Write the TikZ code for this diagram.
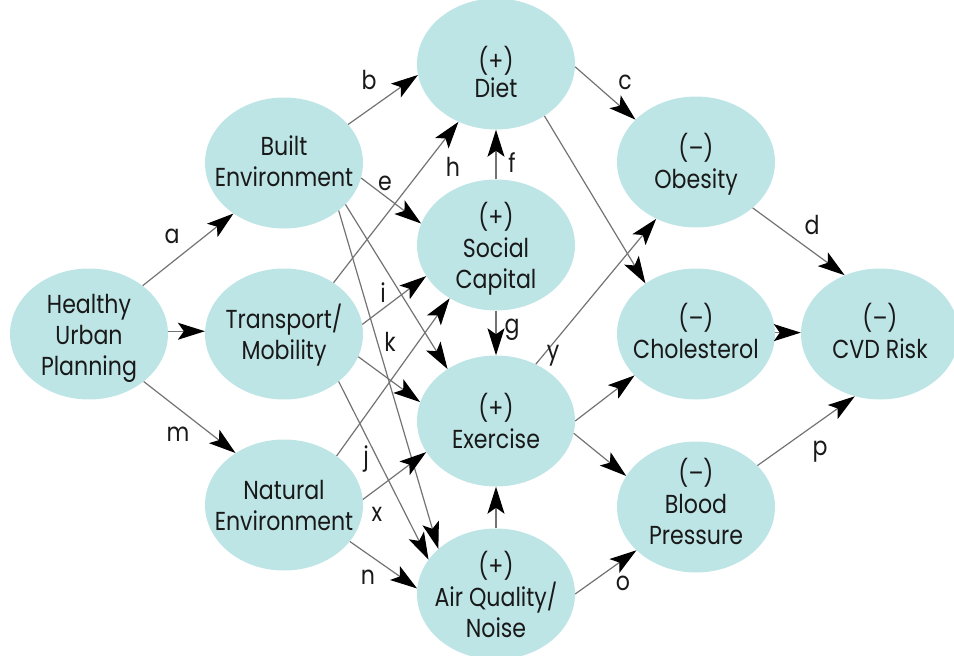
\documentclass[tikz,border=0pt]{standalone}
\usepackage{fontspec}
\setmainfont{Poppins}[FakeStretch=0.85]
\usetikzlibrary{shapes.geometric,arrows.meta}
\definecolor{bubfill}{RGB}{190,229,230}
\definecolor{lncol}{RGB}{115,115,115}
\definecolor{txtcol}{RGB}{25,25,25}
\begin{document}
\begin{tikzpicture}[x=1pt,y=-1pt,
  bubble/.style={ellipse, fill=bubfill, minimum width=158pt, minimum height=131pt, inner sep=0pt},
  txt/.style={align=center, font=\fontsize{26}{31}\selectfont, text=txtcol, inner sep=0pt, yshift=-4pt},
  lbl/.style={font=\fontsize{26}{30}\selectfont, text=txtcol, inner sep=0pt},
  arr/.style={draw=lncol, line width=1.2pt, -{Stealth[color=black,length=27pt,width=17pt,inset=6pt]}}]
\useasboundingbox (0,0) rectangle (954,656);

% bubbles
\node[bubble] (HUP) at (89,334) {};
\node[bubble] (BE)  at (284,163) {};
\node[bubble] (TM)  at (284,334) {};
\node[bubble] (NE)  at (284,505) {};
\node[bubble] (DI)  at (496,64) {};
\node[bubble] (SC)  at (496,245) {};
\node[bubble] (EX)  at (496,421) {};
\node[bubble] (AQ)  at (496,594) {};
\node[bubble] (OB)  at (696,162) {};
\node[bubble] (CH)  at (696,334) {};
\node[bubble] (BP)  at (696,507) {};
\node[bubble] (CVD) at (880,334) {};

% texts
\node[txt] (tHUP) at (89,334)    {Healthy\\Urban\\Planning};
\node[txt] (tBE)  at (284,157)   {Built\\Environment};
\node[txt] (tTM)  at (284,331)   {Transport/\\Mobility};
\node[txt] (tNE)  at (284,501.5) {Natural\\Environment};
\node[txt, font=\fontsize{26}{27}\selectfont] (tDI) at (496,68) {(+)\\Diet};
\node[txt] (tSC)  at (496,245)   {(+)\\Social\\Capital};
\node[txt] (tEX)  at (496,416.5) {(+)\\Exercise};
\node[txt] (tAQ)  at (496,590)   {(+)\\Air Quality/\\Noise};
\node[txt] (tOB)  at (696,160.5) {(–)\\Obesity};
\node[txt] (tCH)  at (696,327)   {(–)\\Cholesterol};
\node[txt] (tBP)  at (696,497)   {(–)\\Blood\\Pressure};
\node[txt] (tCVD) at (880,327)   {(–)\\CVD Risk};

% connectors
\draw[arr] (HUP.42)  -- (BE.225);
\draw[arr] (HUP.2)   -- (TM.178);
\draw[arr] (HUP.-41) -- (NE.133);
\draw[arr] (BE.31)   -- (DI.188);
\draw[arr] (BE.-11)  -- (SC.164);
\draw[arr] (BE.-34)  -- (EX.133);
\draw[arr] (BE.-41)  -- (AQ.142);
\draw[arr] (TM.46)   -- (DI.237);
\draw[arr] (TM.7)    -- (SC.204);
\draw[arr] (TM.-17)  -- (EX.166);
\draw[arr] (TM.-41)  -- (AQ.153);
\draw[arr] (NE.43)   -- (SC.229);
\draw[arr] (NE.4)    -- (EX.204);
\draw[arr] (NE.-29)  -- (AQ.176);
\draw[arr] (SC.90)   -- (DI.270);
\draw[arr] (SC.270)  -- (EX.90);
\draw[arr] (AQ.90)   -- (EX.270);
\draw[arr] (DI.-2)   -- (OB.145);
\draw[arr] (DI.-47)  -- (CH.135);
\draw[arr] (EX.55)   -- (OB.235);
\draw[arr] (EX.0)    -- (CH.214);
\draw[arr] (EX.-9)   -- (BP.156);
\draw[arr] (AQ.0)    -- (BP.216);
\draw[arr] (OB.-39)  -- (CVD.121);
\draw[arr] (CH.1)    -- (CVD.179);
\draw[arr] (BP.34)   -- (CVD.248);

% edge labels
\node[lbl] (la) at (172,236) {a};
\node[lbl] (lb) at (369,80)  {b};
\node[lbl] (lc) at (625,82)  {c};
\node[lbl] (ld) at (812,225) {d};
\node[lbl] (le) at (385,183) {e};
\node[lbl] (lf) at (512,163) {f};
\node[lbl] (lg) at (512,330) {g};
\node[lbl] (lh) at (453,167) {h};
\node[lbl] (li) at (383,293) {i};
\node[lbl] (lj) at (366,459) {j};
\node[lbl] (lk) at (390,342) {k};
\node[lbl] (lm) at (178,434) {m};
\node[lbl] (ln) at (368,577) {n};
\node[lbl] (lo) at (623,583) {o};
\node[lbl] (lp) at (820,452) {p};
\node[lbl] (lx) at (377,514) {x};
\node[lbl] (ly) at (553,356) {y};
\end{tikzpicture}
\end{document}
